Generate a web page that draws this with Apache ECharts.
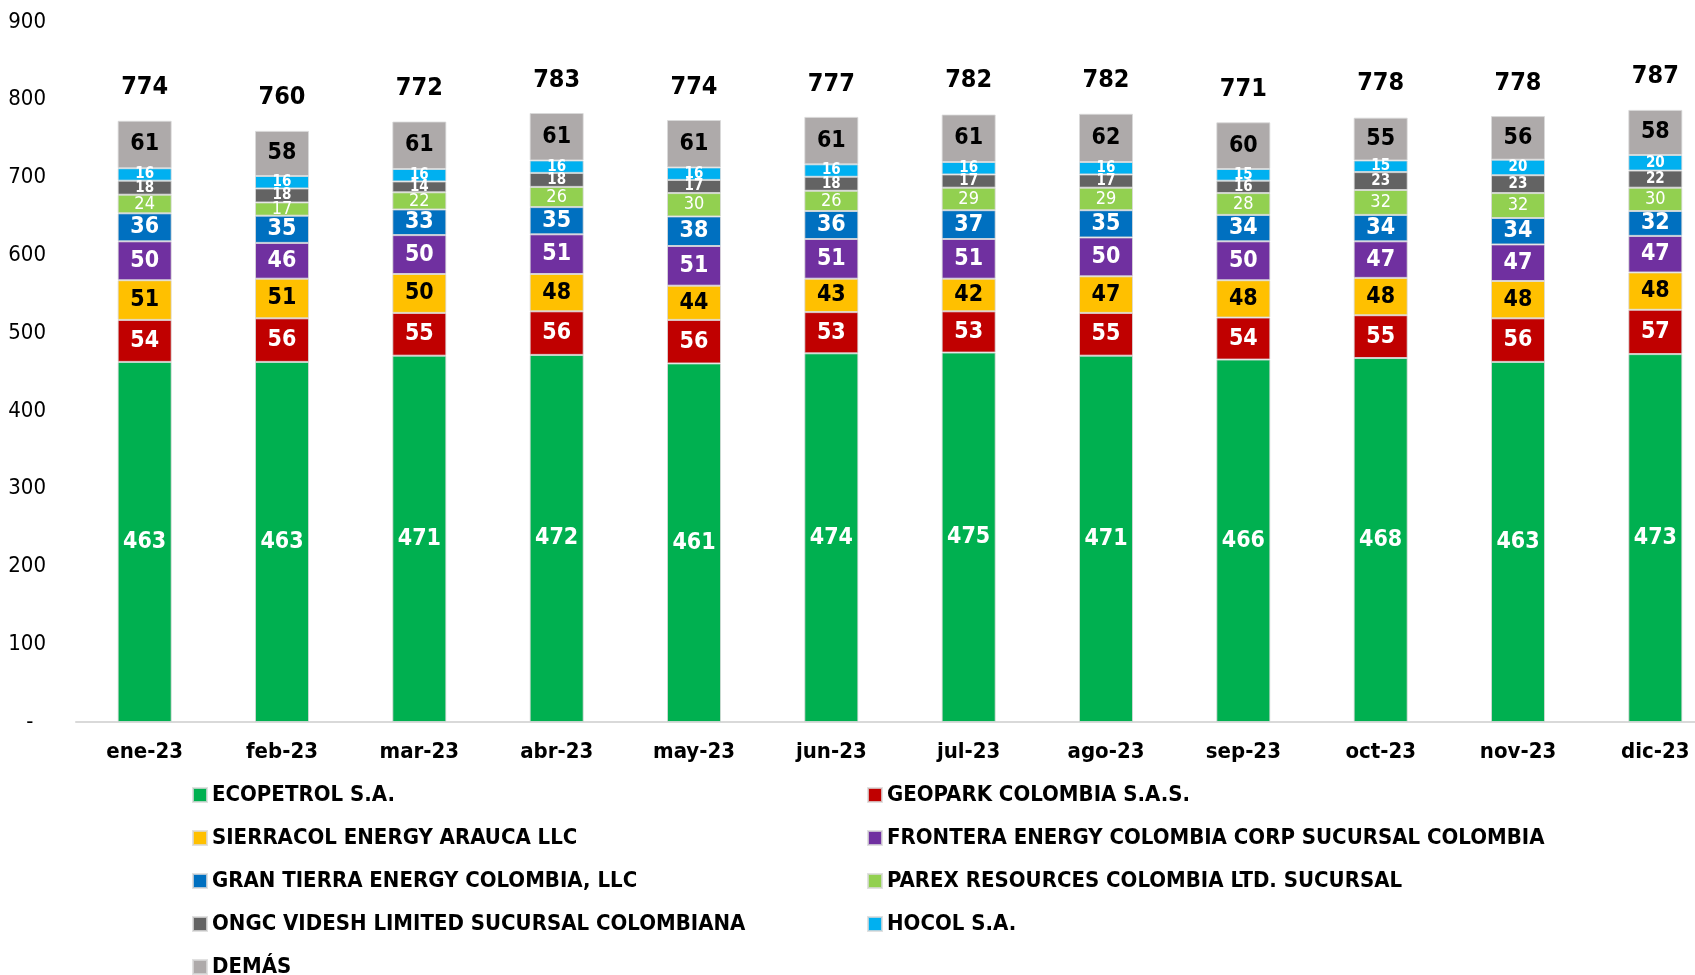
<!DOCTYPE html>
<html>
<head>
<meta charset="utf-8">
<script src="https://cdn.jsdelivr.net/npm/echarts@6/dist/echarts.min.js"></script>
<style>
  html, body { margin: 0; padding: 0; background: #fff; overflow: hidden; }
  /* the plot runs past the right edge, as in the original */
  #chart { width: 1724px; height: 975px; }
</style>
</head>
<body>
<div id="chart"></div>
<script>
const months = ['ene-23','feb-23','mar-23','abr-23','may-23','jun-23','jul-23','ago-23','sep-23','oct-23','nov-23','dic-23']

const ecopetrol = [463,463,471,472,461,474,475,471,466,468,463,473]
const geopark = [54,56,55,56,56,53,53,55,54,55,56,57]
const sierracol = [51,51,50,48,44,43,42,47,48,48,48,48]
const frontera = [50,46,50,51,51,51,51,50,50,47,47,47]
const granTierra = [36,35,33,35,38,36,37,35,34,34,34,32]
const parex = [24,17,22,26,30,26,29,29,28,32,32,30]
const ongc = [18,18,14,18,17,18,17,17,16,23,23,22]
const hocol = [16,16,16,16,16,16,16,16,15,15,20,20]
const demas = [61,58,61,61,61,61,61,62,60,55,56,58]
const totals = [774,760,772,783,774,777,782,782,771,778,778,787]

const yTicks = [0,100,200,300,400,500,600,700,800,900]

const FONT = '"DejaVu Sans Condensed", "DejaVu Sans", sans-serif'

// name, data, colour, label colour, label size, bold
const seriesDefs = [
    ['ECOPETROL S.A.', ecopetrol, '#00B050', '#fff', 23, 'bold'],
    ['GEOPARK COLOMBIA S.A.S.', geopark, '#C00000', '#fff', 23, 'bold'],
    ['SIERRACOL ENERGY ARAUCA LLC', sierracol, '#FFC000', '#000', 23, 'bold'],
    ['FRONTERA ENERGY COLOMBIA CORP SUCURSAL COLOMBIA', frontera, '#7030A0', '#fff', 23, 'bold'],
    ['GRAN TIERRA ENERGY COLOMBIA, LLC', granTierra, '#0070C0', '#fff', 23, 'bold'],
    ['PAREX RESOURCES COLOMBIA LTD. SUCURSAL', parex, '#92D050', '#fff', 18, 'normal'],
    ['ONGC VIDESH LIMITED SUCURSAL COLOMBIANA', ongc, '#636363', '#fff', 15, 'bold'],
    ['HOCOL S.A.', hocol, '#00B0F0', '#fff', 15, 'bold'],
    ['DEMÁS', demas, '#AEAAAA', '#000', 23, 'bold']
]

const series = seriesDefs.map(d => ({
    name: d[0],
    type: 'bar',
    stack: 'total',
    barWidth: 54,
    data: d[1],
    itemStyle: { color: d[2], borderColor: 'rgba(217,217,217,0.8)', borderWidth: 1 },
    label: {
        show: true,
        position: 'inside',
        color: d[3],
        fontSize: d[4],
        fontWeight: d[5],
        fontFamily: FONT
    }
}))

// etiqueta del total encima de cada barra
series.push({
    name: 'total',
    type: 'line',
    data: totals,
    symbol: 'circle',
    symbolSize: 1,
    itemStyle: { color: 'transparent' },
    lineStyle: { opacity: 0 },
    label: {
        show: true,
        position: 'top',
        distance: 20,
        color: '#000',
        fontSize: 25,
        fontWeight: 'bold',
        fontFamily: FONT
    },
    z: 10
})

const leftLegend = [seriesDefs[0][0], seriesDefs[2][0], seriesDefs[4][0], seriesDefs[6][0], seriesDefs[8][0]]
const rightLegend = [seriesDefs[1][0], seriesDefs[3][0], seriesDefs[5][0], seriesDefs[7][0]]

const legendBase = {
    orient: 'vertical',
    top: 779,
    height: 260,
    itemWidth: 14,
    itemHeight: 14,
    itemGap: 21,
    icon: 'rect',
    selectedMode: false,
    textStyle: { fontSize: 22, fontWeight: 'bold', color: '#000', fontFamily: FONT, lineHeight: 22 }
}

const option = {
    animation: false,
    backgroundColor: '#fff',
    grid: { left: 76, top: 22, right: 0, bottom: 253 },
    legend: [
        Object.assign({}, legendBase, { left: 187, data: leftLegend }),
        Object.assign({}, legendBase, { left: 862, data: rightLegend })
    ],
    xAxis: {
        type: 'category',
        data: months,
        axisLine: { lineStyle: { color: '#D9D9D9', width: 2 } },
        axisTick: { show: false },
        axisLabel: { color: '#000', fontSize: 22, fontWeight: 'bold', fontFamily: FONT, margin: 19 }
    },
    yAxis: {
        type: 'value',
        min: yTicks[0],
        max: yTicks[yTicks.length - 1],
        interval: 100,
        splitLine: { show: false },
        axisLine: { show: false },
        axisTick: { show: false },
        axisLabel: {
            color: '#000',
            fontSize: 22,
            fontFamily: FONT,
            margin: 30,
            formatter: v => v === 0 ? '-  ' : v
        }
    },
    series: series
}

const chart = echarts.init(document.getElementById('chart'))
chart.setOption(option)
</script>
</body>
</html>
